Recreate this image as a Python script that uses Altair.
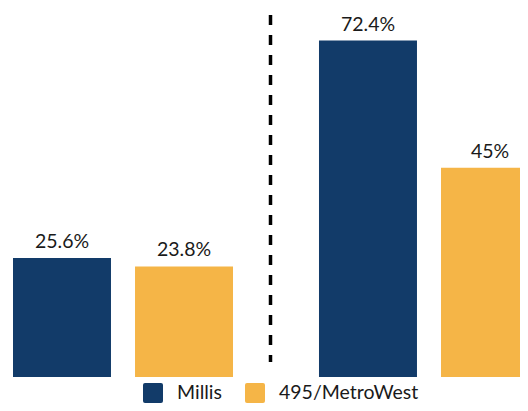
import altair as alt
import pandas as pd

groups = ["Group 1", "Group 2"]
series = ["Millis", "495/MetroWest"]
millis = [25.6, 72.4]
metrowest = [23.8, 45.0]
colors = ["#123B69", "#F5B547"]

rows = []
for g, m, w in zip(groups, millis, metrowest):
    rows.append({"group": g, "series": series[0], "value": m})
    rows.append({"group": g, "series": series[1], "value": w})
df = pd.DataFrame(rows)
df["label"] = df["value"].map(lambda v: f"{v:g}%")

rounded_square = ("M -0.8,-1 H 0.8 Q 1,-1 1,-0.8 V 0.8 Q 1,1 0.8,1 H -0.8 "
                  "Q -1,1 -1,0.8 V -0.8 Q -1,-1 -0.8,-1 Z")

x = alt.X("group:N", sort=groups, axis=None,
          scale=alt.Scale(range=[5, 531], paddingInner=0.281, paddingOuter=0))
xo = alt.XOffset("series:N", sort=series,
                 scale=alt.Scale(paddingInner=0.197, paddingOuter=0))
y = alt.Y("value:Q", axis=None,
          scale=alt.Scale(domain=[0, 79.4], nice=False, range=[369, 0]))
color = alt.Color(
    "series:N", sort=series,
    scale=alt.Scale(domain=series, range=colors),
    legend=alt.Legend(
        title=None, orient="none", legendX=135, legendY=375,
        direction="horizontal", symbolType=rounded_square, symbolSize=400,
        symbolStrokeWidth=0, symbolOpacity=1,
        labelFont="Lato", labelFontSize=19.5, labelColor="#1a1a1a",
        labelOffset=14, columnPadding=23,
    ),
)

base = alt.Chart(df)
bars = base.mark_bar(clip=True).encode(x=x, xOffset=xo, y=y, color=color)
text = base.mark_text(font="Lato", fontSize=19.5, baseline="alphabetic", dy=-10,
                      color="#1a1a1a").encode(x=x, xOffset=xo, y=y, text="label:N")
sep = alt.Chart(pd.DataFrame({"a": [0]})).mark_rule(
    strokeDash=[10, 10], strokeWidth=3.5, color="black"
).encode(x=alt.value(262.5), y=alt.value(7), y2=alt.value(354))

chart = alt.layer(bars, text, sep).properties(
    width=512, height=395, padding=0,
    autosize=alt.AutoSizeParams(type="none"),
).configure_view(stroke=None)

chart.save("out.html", embed_options={"renderer": "svg", "actions": False})
